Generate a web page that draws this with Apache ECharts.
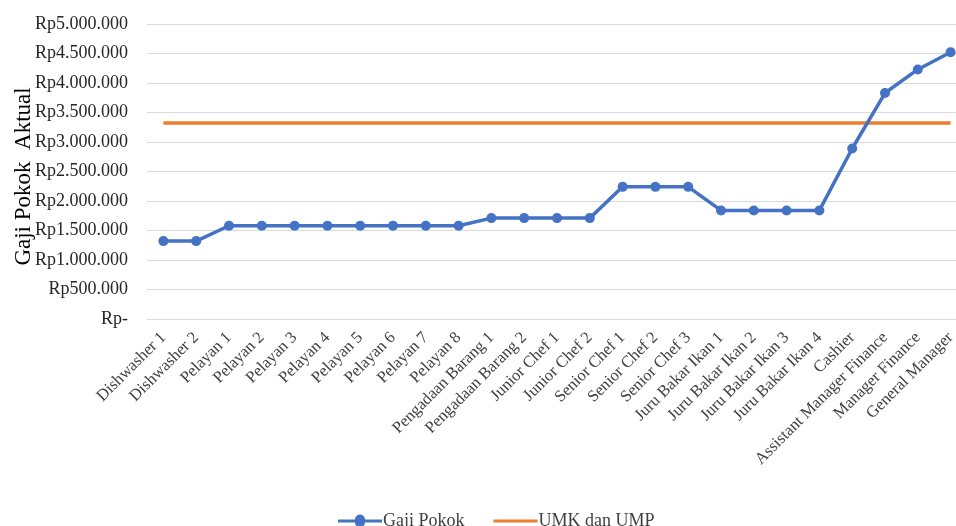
<!DOCTYPE html>
<html>
<head>
<meta charset="utf-8">
<script src="https://cdn.jsdelivr.net/npm/echarts@6/dist/echarts.min.js"></script>
<style>
  html, body { margin: 0; padding: 0; background: #fff; overflow: hidden; }
  #chart { width: 956px; height: 526px; }
</style>
</head>
<body>
<div id="chart"></div>
<script>
// Job positions along the x axis
const categories = [
  'Dishwasher 1', 'Dishwasher 2',
  'Pelayan 1', 'Pelayan 2', 'Pelayan 3', 'Pelayan 4', 'Pelayan 5', 'Pelayan 6', 'Pelayan 7', 'Pelayan 8',
  'Pengadaan Barang 1', 'Pengadaan Barang 2',
  'Junior Chef 1', 'Junior Chef 2',
  'Senior Chef 1', 'Senior Chef 2', 'Senior Chef 3',
  'Juru Bakar Ikan 1', 'Juru Bakar Ikan 2', 'Juru Bakar Ikan 3', 'Juru Bakar Ikan 4',
  'Cashier', 'Assistant Manager Finance', 'Manager Finance', 'General Manager'
];

// Actual base salary per position (Rp)
const gajiPokok = [
  1320000, 1320000,
  1580000, 1580000, 1580000, 1580000, 1580000, 1580000, 1580000, 1580000,
  1710000, 1710000,
  1710000, 1710000,
  2240000, 2240000, 2240000,
  1840000, 1840000, 1840000, 1840000,
  2890000, 3830000, 4230000, 4520000
];

// Regional / provincial minimum wage (Rp)
const umkValue = 3320000;
const umkDanUmp = categories.map(() => umkValue);

// Y axis range
const yMin = 0;
const yMax = 5000000;
const yStep = 500000;

function rupiah(v) {
  if (v === 0) return 'Rp-';
  return 'Rp' + String(v).replace(/\B(?=(\d{3})+(?!\d))/g, '.');
}

const serif = '"Liberation Serif", "Times New Roman", serif';
const chart = echarts.init(document.getElementById('chart'));

// Legend icons: thick line with a dot (44x13 box), and a plain thick line
const iconLineDot = 'path://M0,5 L17,5 A5,5 0 0 1 27,5 L44,5 L44,8 L27,8 A5,5 0 0 1 17,8 L0,8 Z';
const iconLine = 'path://M0,5 L44,5 L44,8 L0,8 Z';

chart.setOption({
  animation: false,
  textStyle: { fontFamily: serif },
  grid: {
    left: 147, width: 820, top: 24, height: 295,
    containLabel: false,
    outerBoundsMode: 'none'
  },
  legend: {
    top: 507,
    left: 333,
    itemGap: 29,
    itemWidth: 44,
    itemHeight: 13,
    textStyle: { fontFamily: serif, fontSize: 18, color: '#404040', padding: [0, 0, 0, -4] },
    data: [
      { name: 'Gaji Pokok', icon: iconLineDot, itemStyle: { color: '#4472C4' } },
      { name: 'UMK dan UMP', icon: iconLine, itemStyle: { color: '#ED7D31' } }
    ]
  },
  xAxis: {
    type: 'category',
    data: categories,
    boundaryGap: true,
    axisLine: { show: true, lineStyle: { color: '#d9d9d9' } },
    axisTick: { show: false },
    axisLabel: {
      interval: 0,
      rotate: 45,
      margin: 16,
      fontFamily: serif,
      fontSize: 16.5,
      color: '#404040'
    }
  },
  yAxis: {
    type: 'value',
    min: yMin,
    max: yMax,
    interval: yStep,
    name: 'Gaji Pokok  Aktual',
    nameLocation: 'middle',
    nameGap: 112,
    nameMoveOverlap: false,
    nameRotate: 90,
    nameTextStyle: { fontFamily: serif, fontSize: 23, color: '#000', padding: [0, 10, 0, 0] },
    axisLine: { show: false },
    axisTick: { show: false },
    splitLine: { lineStyle: { color: '#d9d9d9', width: 1 } },
    axisLabel: {
      formatter: rupiah,
      fontFamily: serif,
      fontSize: 18,
      color: '#262626',
      margin: 19
    }
  },
  series: [
    {
      name: 'Gaji Pokok',
      type: 'line',
      data: gajiPokok,
      symbol: 'circle',
      symbolSize: 10,
      itemStyle: { color: '#4472C4' },
      lineStyle: { color: '#4472C4', width: 3.5 },
      z: 3
    },
    {
      name: 'UMK dan UMP',
      type: 'line',
      data: umkDanUmp,
      symbol: 'none',
      itemStyle: { color: '#ED7D31' },
      lineStyle: { color: '#ED7D31', width: 3.5 },
      z: 2
    }
  ]
});
</script>
</body>
</html>
